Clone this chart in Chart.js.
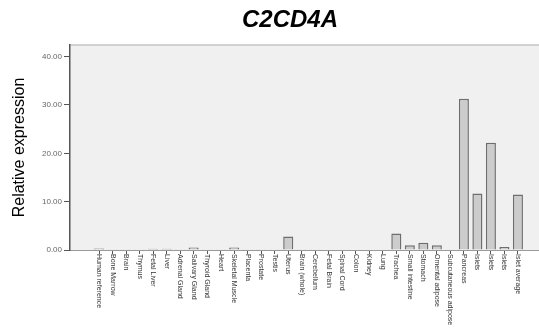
<!DOCTYPE html>
<html>
<head>
<meta charset="utf-8">
<script src="https://cdn.jsdelivr.net/npm/chart.js@4.4.1/dist/chart.umd.min.js"></script>
<style>
    html, body { margin: 0; padding: 0; background: #fff; }
    #wrap { width: 539px; height: 332px; }
</style>
</head>
<body>
<div id="wrap"><canvas id="chart" width="539" height="332"></canvas></div>
<script>
const tissues = [
    'Human reference', 'Bone Marrow', 'Brain', 'Thymus', 'Fetal Liver', 'Liver',
    'Adrenal Gland', 'Salivary Gland', 'Thyroid Gland', 'Heart', 'Skeletal Muscle',
    'Placenta', 'Prostate', 'Testis', 'Uterus', 'Brain (whole)', 'Cerebellum',
    'Fetal Brain', 'Spinal Cord', 'Colon', 'Kidney', 'Lung', 'Trachea',
    'Small intestine', 'Stomach', 'Omental adipose', 'Subcutaneous adipose',
    'Pancreas', 'Islets', 'Islets', 'Islets', 'Islet average'
];
const expression = [
    0.3, 0.05, 0.05, 0.05, 0.25, 0.25,
    0.05, 0.5, 0.05, 0.05, 0.5,
    0.05, 0.05, 0.05, 2.8, 0.05, 0.05,
    0.1, 0.1, 0.1, 0.1, 0.1, 3.4,
    1.0, 1.5, 1.0, 0.1,
    31.3, 11.7, 22.2, 0.6, 11.5
];
const yTicks = [0, 10, 20, 30, 40];
const chartTitle = 'C2CD4A';

const framePlugin = {
    id: 'frame',
    beforeDraw(chart) {
        const { ctx, chartArea } = chart;
        ctx.save();
        ctx.fillStyle = '#f0f0f0';
        ctx.fillRect(chartArea.left, chartArea.top, chartArea.right - chartArea.left, chartArea.bottom - chartArea.top);
        ctx.strokeStyle = '#c4c4c4';
        ctx.lineWidth = 1.5;
        ctx.beginPath();
        ctx.moveTo(chartArea.left, chartArea.top);
        ctx.lineTo(chartArea.right, chartArea.top);
        ctx.stroke();
        ctx.restore();
    },
    afterDraw(chart) {
        const { ctx, chartArea } = chart;
        const xScale = chart.scales.x;
        ctx.save();
        // title
        ctx.fillStyle = '#000';
        ctx.font = 'italic bold 24px "Liberation Sans", Arial, sans-serif';
        ctx.textAlign = 'center';
        ctx.textBaseline = 'alphabetic';
        ctx.fillText(chartTitle, 290, 26.5);
        // category labels, reading top to bottom
        ctx.font = '7px "Liberation Sans", Arial, sans-serif';
        ctx.fillStyle = '#333';
        ctx.textAlign = 'left';
        ctx.textBaseline = 'middle';
        tissues.forEach(function (name, i) {
            const x = xScale.getPixelForValue(i);
            ctx.save();
            ctx.translate(x, chartArea.bottom + 4);
            ctx.rotate(Math.PI / 2);
            ctx.fillText(name, 0, 0);
            ctx.restore();
        });
        ctx.restore();
    }
};

const ctx = document.getElementById('chart').getContext('2d');
new Chart(ctx, {
    type: 'bar',
    data: {
        datasets: [{
            data: expression.map(function (v, i) { return { x: i, y: v }; }),
            backgroundColor: '#cccccc',
            borderColor: '#6e6e6e',
            borderWidth: 1.5,
            barPercentage: 0.93,
            categoryPercentage: 0.8
        }]
    },
    options: {
        responsive: false,
        animation: false,
        layout: { padding: { top: 45, right: 0, bottom: 0, left: 0 } },
        plugins: {
            legend: { display: false },
            tooltip: { enabled: false }
        },
        scales: {
            x: {
                type: 'linear',
                offset: false,
                min: -2.15,
                max: 32.56,
                afterFit: function (scale) { scale.height = 82; },
                border: { color: '#9a9a9a', width: 1 },
                grid: {
                    offset: false,
                    drawOnChartArea: false,
                    tickLength: 4,
                    color: function (c) {
                        const v = c.tick ? c.tick.value : -1;
                        return (v >= 0 && v < tissues.length) ? '#555' : 'rgba(0,0,0,0)';
                    }
                },
                ticks: { display: false, stepSize: 1, autoSkip: false, includeBounds: false }
            },
            y: {
                min: 0,
                max: 42.4,
                afterFit: function (scale) { scale.width = 70; },
                afterBuildTicks: function (scale) {
                    scale.ticks = yTicks.map(function (v) { return { value: v }; });
                },
                border: { color: '#555', width: 1.5 },
                grid: { drawOnChartArea: false, tickLength: 6, color: '#555' },
                ticks: {
                    font: { size: 8, family: '"Liberation Sans", Arial, sans-serif' },
                    color: '#666',
                    padding: 2,
                    callback: function (v) { return Number(v).toFixed(2); }
                },
                title: {
                    display: true,
                    text: 'Relative expression',
                    color: '#000',
                    font: { size: 16, family: '"Liberation Sans", Arial, sans-serif' },
                    padding: { top: 10, bottom: 0 }
                }
            }
        }
    },
    plugins: [framePlugin]
});
</script>
</body>
</html>
